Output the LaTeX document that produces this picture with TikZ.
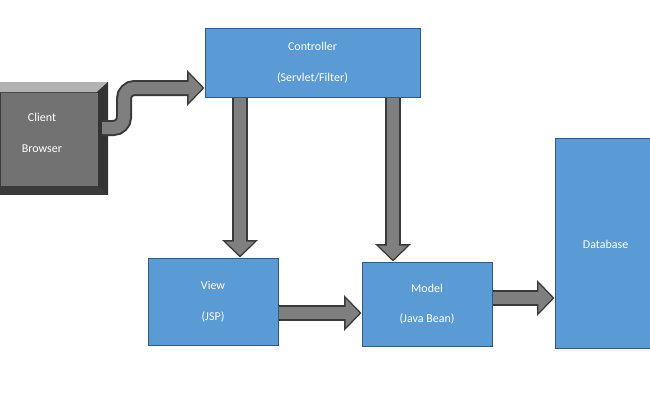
\documentclass[tikz,border=0pt]{standalone}
\usepackage{fontspec}
\setmainfont{Carlito}
\usetikzlibrary{arrows.meta,shapes.geometric}
\definecolor{boxblue}{HTML}{5B9BD5}
\definecolor{boxline}{HTML}{2E5C8A}
\definecolor{arrgray}{HTML}{7F7F7F}
\definecolor{arrline}{HTML}{3A3A3A}
\tikzset{every picture/.style={line width=0.75pt}}
\tikzset{
  block/.style={draw=boxline,fill=boxblue,text=white,minimum width=#1,align=center,font=\small,inner sep=0pt},
  fat arrow/.style={draw=arrline,line width=12pt,-{Triangle[length=13pt,width=26pt]}},
  fat arrow in/.style={draw=arrgray,line width=9pt,shorten >=1.5pt,-{Triangle[length=10.5pt,width=21pt]}}
}
\newcommand{\fatarrow}[1]{\draw[fat arrow] #1; \draw[fat arrow in] #1;}

\begin{document}
\begin{tikzpicture}[x=0.75pt,y=0.75pt,yscale=-1,xscale=1]
    \useasboundingbox (0,0) rectangle (650,400);

    % Client Browser (bevelled)
    \fill[arrline] (0,82) rectangle (108,195);
    \fill[gray!60] (0,82) -- (108,82) -- (97,92) -- (0,92) -- cycle;
    \fill[gray!40!black] (97,92) -- (108,82) -- (108,195) -- (97,185) -- cycle;
    \node[draw=none,fill=arrgray!90!black,minimum width=97*0.75pt,minimum height=93*0.75pt,anchor=north west,inner sep=0pt] (client) at (0,92) {};
    \node[text=white,font=\small,align=center] (clienttxt) at (42,133) {Client\\[12pt]Browser};

    % Blue blocks
    \node[block=215*0.75pt,minimum height=69*0.75pt] (ctrl) at (312.5,62.5) {Controller\\[12pt](Servlet/Filter)};
    \node[block=130*0.75pt,minimum height=87*0.75pt] (view) at (213,301.5) {View\\[12pt](JSP)};
    \node[block=130*0.75pt,minimum height=84*0.75pt] (model) at (427,304) {Model\\[12pt](Java Bean)};

    % Database
    \begin{scope}
      \clip (0,0) rectangle (650,400);
      \node[cylinder,shape border rotate=90,aspect=0.22,draw=boxline,fill=boxblue,minimum width=112*0.75pt,minimum height=210*0.75pt,inner sep=0pt] (db) at (611,244) {};
      \node[text=white,font=\small,anchor=west] (dbtxt) at (578,244) {Database};
    \end{scope}

    % Connectors
    \coordinate (bend) at (102,128);
    \coordinate (turn) at (124,88);
    \coordinate (xa) at (240,0);
    \coordinate (xb) at (393,0);
    \coordinate (ya) at (0,313);
    \coordinate (yb) at (0,298);
    \draw[fat arrow,rounded corners=8pt] (bend) -- (124,128) -- (turn) -- (ctrl.west|-turn);
    \draw[fat arrow in,rounded corners=8pt] (bend) -- (124,128) -- (turn) -- (ctrl.west|-turn);
    \fatarrow{(ctrl.south-|xa) -- (view.north-|xa)}
    \fatarrow{(ctrl.south-|xb) -- (model.north-|xb)}
    \fatarrow{(view.east|-ya) -- (model.west|-ya)}
    \fatarrow{(model.east|-yb) -- (db.west|-yb)}
\end{tikzpicture}
\end{document}
